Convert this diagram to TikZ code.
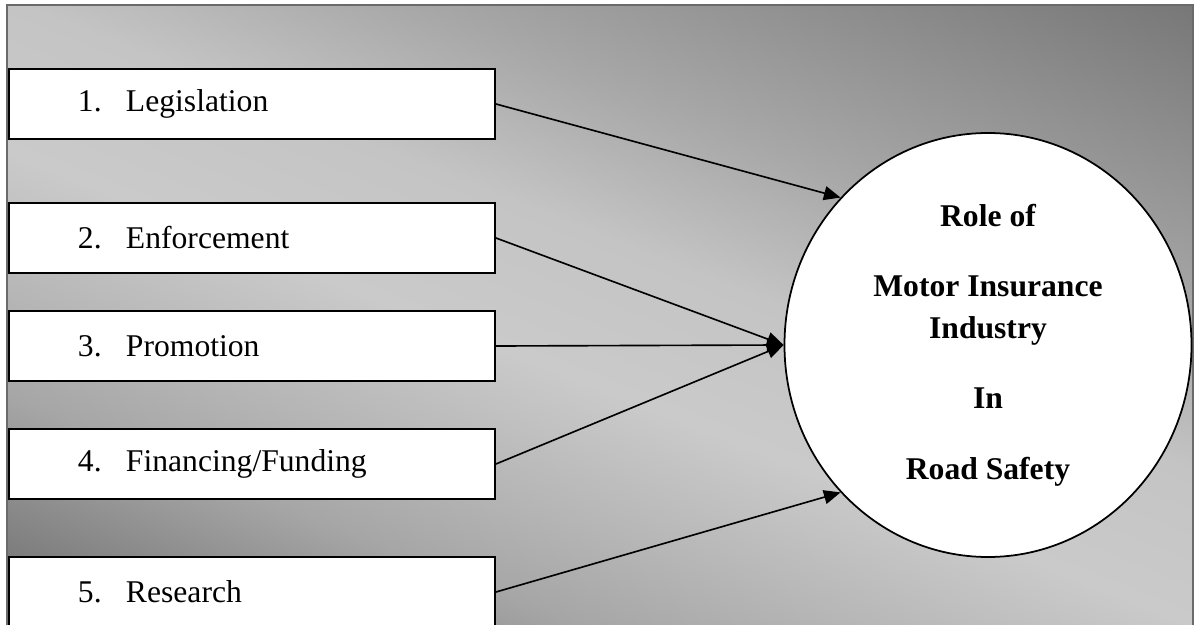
\documentclass[tikz,border=0pt]{standalone}
\usepackage{fontspec}
\setmainfont{Liberation Serif}
\usetikzlibrary{arrows.meta,shapes.geometric}
\definecolor{framegray}{HTML}{6A6A6A}
\definecolor{bgdeep}{HTML}{6E6E6E}
\definecolor{bgdeep2}{HTML}{767676}
\definecolor{bgdeep3}{HTML}{A6A6A6}
\definecolor{bgsoft}{HTML}{B4B4B4}
\definecolor{bglight}{HTML}{CACACA}
\definecolor{bglight2}{HTML}{C4C4C4}
\definecolor{bgmid}{HTML}{A8A8A8}
\definecolor{bgdark}{HTML}{666666}
\pgfdeclareverticalshading{bgshade}{100bp}{color(0bp)=(bgdeep); color(36bp)=(bgdeep2); color(42bp)=(bgdeep3); color(45bp)=(bgsoft); color(50bp)=(bglight); color(55bp)=(bglight2); color(60bp)=(bgmid); color(74bp)=(bgdark); color(100bp)=(bgdark)}
\tikzset{
  ar/.style={-{Triangle[length=5mm,width=4.2mm]},line width=1.4pt},
  box/.style={draw,line width=1.6pt,fill=white,minimum height=2.1cm,text width=14.58cm,inner xsep=0pt,align=left,font=\fontsize{27}{32}\selectfont},
  hub/.style={ellipse,draw,line width=1.5pt,fill=white,minimum width=12.21cm,minimum height=12.72cm,inner sep=0pt,align=center,font=\fontsize{27}{36}\selectfont\bfseries}
}
\begin{document}
\begin{tikzpicture}[x=0.03cm,y=-0.03cm]
\useasboundingbox (0,0) rectangle (1195,625);
% background
\begin{scope}
\clip (7,5) rectangle (1193,660);
\shade[shading=bgshade,shading angle=-21.7] (-113,-323) rectangle (1307,1097);
\end{scope}
\draw[framegray,line width=1.8pt] (7,5) rectangle (1193,660);
\node[hub] (role) at (988,345) {Role of\\[24pt]Motor Insurance\\Industry\\[24pt]In\\[24pt]Road Safety};
\foreach \i/\y/\t in {1/104/Legislation,2/238/Enforcement,3/346/Promotion,4/464/{Financing/Funding},5/592/Research}
  \node[box] (b\i) at (252,\y) {\hspace*{2.07cm}\makebox[1.44cm][l]{\i.}\t};
\draw[ar] (b1.east) -- (role.135);
\foreach \i in {2,3,4} \draw[ar] (b\i.east) -- (role.west);
\draw[ar] (b5.east) -- (role.225);
\end{tikzpicture}
\end{document}
